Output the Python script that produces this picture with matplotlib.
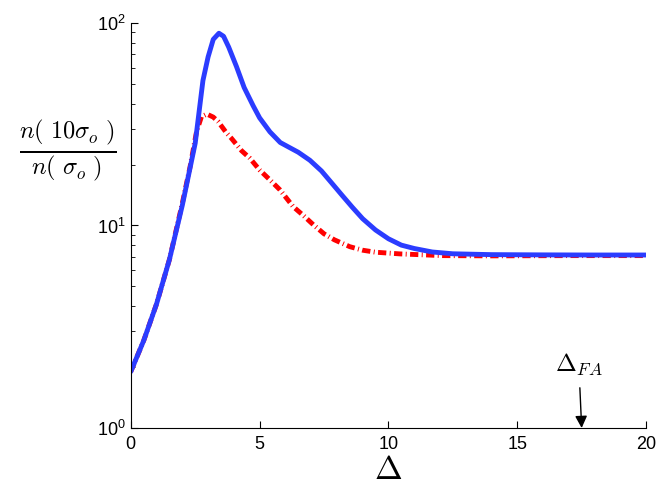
import matplotlib
matplotlib.use('Agg')
import matplotlib.pyplot as plt

plt.rcParams['font.family'] = ['Liberation Sans', 'DejaVu Sans']
plt.rcParams['mathtext.fontset'] = 'cm'

# values (log axis)
delta_blue = [0.0, 0.5, 1.0, 1.5, 2.0, 2.5, 2.8, 3.0, 3.2, 3.42, 3.6, 3.8, 4.1, 4.4,
              4.75, 5.0, 5.4, 5.8, 6.1, 6.5, 6.95, 7.4, 7.8, 8.2, 8.6, 9.0, 9.5,
              10.0, 10.5, 11.0, 11.7, 12.5, 14.0, 16.0, 18.0, 20.0]
ratio_blue = [1.9, 2.7, 4.1, 6.8, 12.6, 25.5, 52, 68, 83, 89, 86, 76, 61, 48,
              39, 34, 29, 25.7, 24.5, 23, 21, 18.6, 16.2, 14.1, 12.3, 10.8, 9.5,
              8.6, 8.0, 7.7, 7.4, 7.25, 7.18, 7.16, 7.15, 7.15]

delta_red = [0.0, 0.5, 1.0, 1.5, 2.0, 2.3, 2.55, 2.74, 2.95, 3.2, 3.39, 3.7, 3.9,
             4.3, 4.62, 5.0, 5.4, 5.79, 6.3, 6.7, 7.08, 7.5, 7.9, 8.5, 9.0, 9.5,
             10.45, 12.1, 14.0, 17.0, 20.0]
ratio_red = [1.9, 2.7, 4.1, 6.8, 12.9, 19.5, 29, 34.4, 35.5, 34.3, 32.6, 28.8, 27,
             23.4, 21.5, 18.8, 16.8, 15, 12.4, 11.2, 10.1, 9.1, 8.5, 7.86, 7.55, 7.38,
             7.24, 7.1, 7.08, 7.1, 7.1]

fa_x = 17.5

fig = plt.figure(figsize=(6.64, 5.0), dpi=100)
ax = fig.add_axes([0.197, 0.144, 0.776, 0.81])

ax.plot(delta_red, ratio_red, color='#ff0000', lw=3.5, dashes=(1.7, 0.7, 0.2, 0.7),
        dash_capstyle='butt')
ax.plot(delta_blue, ratio_blue, color='#2b3cff', lw=3.5, solid_capstyle='round')

ax.set_yscale('log')
ax.set_xlim(0, 20)
ax.set_ylim(1, 100)
ax.set_xticks([0, 5, 10, 15, 20])

for s in ['top', 'right']:
    ax.spines[s].set_visible(False)
ax.tick_params(which='both', direction='in', labelsize=13)
ax.tick_params(which='major', length=5)
ax.tick_params(which='minor', length=3)
ax.tick_params(axis='x', pad=6)

ax.set_xlabel(r'$\Delta$', fontsize=24, labelpad=0, family='DejaVu Sans')
fig.text(0.102, 0.698, r'$\frac{n(\ 10\sigma_o\ )}{n(\ \sigma_o\ )}$',
         fontsize=25, ha='center', va='center')

ax.annotate('', xy=(fa_x, 1.0), xytext=(fa_x - 0.07, 1.58),
            arrowprops=dict(arrowstyle='-|>', color='k', lw=1, mutation_scale=18,
                            shrinkA=0, shrinkB=0))
ax.text(fa_x - 0.1, 2.05, r'$\Delta_{FA}$', fontsize=18, ha='center', va='center')

fig.savefig('out.png', dpi=100)
